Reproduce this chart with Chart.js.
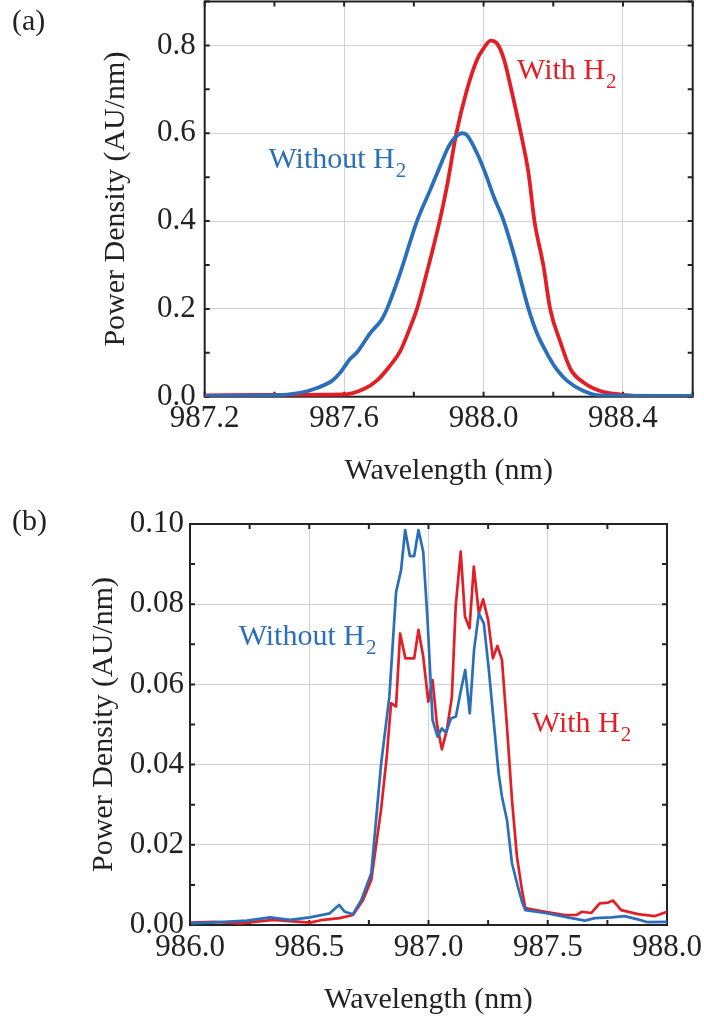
<!DOCTYPE html>
<html>
<head>
<meta charset="utf-8">
<script src="https://cdn.jsdelivr.net/npm/chart.js@4"></script>
<style>
  html, body { margin: 0; padding: 0; background: #fff; }
  #wrap { position: relative; width: 704px; height: 1018px; }
  canvas { position: absolute; left: 0; }
  #chartA { top: 0; }
  #chartB { top: 505px; }
</style>
</head>
<body>
<div id="wrap">
  <canvas id="chartA" width="704" height="505"></canvas>
  <canvas id="chartB" width="704" height="513"></canvas>
</div>
<script>
// (a) spectra, wavelength in nm, power density in AU/nm
const wlWithoutA = [987.200, 987.397, 987.474, 987.512, 987.565, 987.589, 987.617, 987.636, 987.675, 987.708,
  987.723, 987.761, 987.809, 987.847, 987.871, 987.900, 987.919, 987.938, 987.952, 987.981, 988.005, 988.029,
  988.058, 988.086, 988.129, 988.153, 988.181, 988.210, 988.240, 988.287, 988.335, 988.600];
const pdWithoutA = [0.002, 0.003, 0.009, 0.017, 0.036, 0.055, 0.086, 0.100, 0.145, 0.176,
  0.200, 0.282, 0.400, 0.471, 0.517, 0.570, 0.591, 0.600, 0.596, 0.555, 0.509, 0.456,
  0.400, 0.327, 0.200, 0.145, 0.100, 0.062, 0.036, 0.013, 0.003, 0.002];

const wlWithA = [987.200, 987.369, 987.598, 987.655, 987.693, 987.731, 987.761, 987.789, 987.809, 987.837,
  987.874, 987.895, 987.922, 987.952, 987.981, 988.000, 988.020, 988.038, 988.058, 988.082, 988.107, 988.129,
  988.146, 988.172, 988.191, 988.221, 988.250, 988.288, 988.335, 988.392, 988.431, 988.600];
const pdWithA = [0.003, 0.004, 0.005, 0.017, 0.036, 0.070, 0.104, 0.157, 0.200, 0.282,
  0.400, 0.479, 0.600, 0.698, 0.767, 0.793, 0.811, 0.805, 0.770, 0.691, 0.600, 0.509,
  0.400, 0.297, 0.200, 0.123, 0.062, 0.032, 0.013, 0.005, 0.002, 0.002];

// (b) spectra
const wlWithoutB = [986.004, 986.086, 986.142, 986.239, 986.336, 986.419, 986.503, 986.586, 986.625, 986.649,
  986.683, 986.718, 986.760, 986.801, 986.836, 986.864, 986.885, 986.902, 986.922, 986.940, 986.958, 986.978,
  986.996, 987.017, 987.038, 987.056, 987.073, 987.094, 987.115, 987.136, 987.154, 987.173, 987.191, 987.211,
  987.232, 987.253, 987.274, 987.294, 987.308, 987.329, 987.350, 987.371, 987.392, 987.406, 987.489, 987.600,
  987.656, 987.697, 987.767, 987.822, 987.878, 987.919, 988.000];
const pdWithoutB = [0.0004, 0.0006, 0.0008, 0.0011, 0.0019, 0.0013, 0.0019, 0.0029, 0.0050, 0.0033,
  0.0027, 0.0062, 0.0129, 0.0400, 0.0570, 0.0830, 0.0885, 0.0985, 0.0920, 0.0920, 0.0985, 0.0930,
  0.0760, 0.0511, 0.0470, 0.0490, 0.0480, 0.0515, 0.0520, 0.0586, 0.0636, 0.0528, 0.0686, 0.0777,
  0.0752, 0.0636, 0.0503, 0.0378, 0.0320, 0.0262, 0.0154, 0.0104, 0.0058, 0.0037, 0.0030, 0.0017,
  0.0011, 0.0017, 0.0019, 0.0022, 0.0014, 0.0007, 0.0008];

const wlWithB = [986.004, 986.100, 986.211, 986.350, 986.503, 986.558, 986.628, 986.683, 986.725, 986.760,
  986.801, 986.825, 986.843, 986.864, 986.881, 986.903, 986.940, 986.958, 986.978, 986.999, 987.017, 987.035,
  987.056, 987.077, 987.098, 987.114, 987.135, 987.153, 987.172, 987.190, 987.211, 987.229, 987.250, 987.270,
  987.289, 987.308, 987.329, 987.350, 987.371, 987.392, 987.406, 987.489, 987.572, 987.621, 987.642, 987.683,
  987.718, 987.753, 987.774, 987.808, 987.878, 987.947, 988.000];
const pdWithB = [0.0006, 0.0008, 0.0004, 0.0013, 0.0006, 0.0013, 0.0017, 0.0025, 0.0062, 0.0112,
  0.0287, 0.0420, 0.0553, 0.0545, 0.0727, 0.0665, 0.0665, 0.0736, 0.0669, 0.0557, 0.0611, 0.0503,
  0.0438, 0.0486, 0.0569, 0.0794, 0.0931, 0.0769, 0.0740, 0.0894, 0.0777, 0.0812, 0.0761, 0.0665,
  0.0696, 0.0661, 0.0495, 0.0312, 0.0170, 0.0087, 0.0042, 0.0033, 0.0025, 0.0025, 0.0033, 0.0030,
  0.0054, 0.0056, 0.0061, 0.0037, 0.0027, 0.0022, 0.0033];

const BLUE = '#2b6fba';
const RED = '#e21f26';
const SERIF = '"Liberation Serif", "Times New Roman", serif';
const TICK = 5;

const isMajor = (v, step) => Math.abs(Math.round(v / step) * step - v) < 1e-7;

// box frame with inward ticks on all four sides
const framePlugin = {
  id: 'frame',
  beforeDatasetsDraw(chart) {
    const { ctx, chartArea: a, scales: { x, y } } = chart;
    ctx.save();
    ctx.strokeStyle = '#222';
    ctx.lineWidth = 2;
    ctx.beginPath();
    x.ticks.forEach(t => {
      const px = x.getPixelForValue(t.value);
      ctx.moveTo(px, a.bottom); ctx.lineTo(px, a.bottom - TICK);
      ctx.moveTo(px, a.top); ctx.lineTo(px, a.top + TICK);
    });
    y.ticks.forEach(t => {
      const py = y.getPixelForValue(t.value);
      ctx.moveTo(a.left, py); ctx.lineTo(a.left + TICK, py);
      ctx.moveTo(a.right, py); ctx.lineTo(a.right - TICK, py);
    });
    ctx.stroke();
    ctx.strokeRect(a.left, a.top, a.right - a.left, a.bottom - a.top);
    ctx.restore();
  }
};

// curve labels with subscript, and the panel letter
const notesPlugin = {
  id: 'notes',
  afterDatasetsDraw(chart, args, opts) {
    const { ctx, scales: { x, y } } = chart;
    ctx.save();
    ctx.textBaseline = 'alphabetic';
    ctx.textAlign = 'left';
    (opts.items || []).forEach(n => {
      const px = x.getPixelForValue(n.x);
      const py = y.getPixelForValue(n.y);
      ctx.fillStyle = n.color;
      ctx.font = '30px ' + SERIF;
      ctx.fillText(n.text, px, py);
      const w = ctx.measureText(n.text).width;
      ctx.font = '21px ' + SERIF;
      ctx.fillText(n.sub, px + w + 1, py + 9);
    });
    if (opts.panel) {
      ctx.fillStyle = '#222';
      ctx.font = '30px ' + SERIF;
      ctx.fillText(opts.panel.text, opts.panel.left, opts.panel.baseline);
    }
    ctx.restore();
  }
};

function axis(p) {
  return {
    type: 'linear',
    min: p.min,
    max: p.max,
    border: { display: false },
    grid: {
      drawTicks: false,
      lineWidth: 1,
      color: c => isMajor(c.tick.value, p.labelStep) ? '#d2d2d2' : 'rgba(0,0,0,0)'
    },
    ticks: {
      stepSize: p.step,
      autoSkip: false,
      maxRotation: 0,
      padding: p.tickPad,
      color: '#222',
      font: { family: SERIF, size: 31 },
      callback: v => isMajor(v, p.labelStep) ? v.toFixed(p.digits) : ''
    },
    title: {
      display: true,
      text: p.title,
      color: '#222',
      font: { family: SERIF, size: 30, lineHeight: 1.2 },
      padding: p.titlePad
    },
    afterFit(s) {
      if (p.width) s.width = p.width;
      if (p.height) s.height = p.height;
      s.paddingTop = 0; s.paddingBottom = 0; s.paddingLeft = 0; s.paddingRight = 0;
    }
  };
}

function makePanel(id, p) {
  return new Chart(document.getElementById(id), {
    type: 'scatter',
    data: {
      datasets: p.series.map(s => ({
        data: s.wl.map((w, i) => ({ x: w, y: s.pd[i] })),
        borderColor: s.color,
        borderWidth: p.lineWidth,
        showLine: true,
        pointRadius: 0,
        cubicInterpolationMode: p.smooth ? 'monotone' : 'default',
        tension: 0,
        borderJoinStyle: 'round',
        fill: false
      }))
    },
    options: {
      responsive: false,
      animation: false,
      events: [],
      layout: { padding: p.pad },
      plugins: {
        legend: { display: false },
        tooltip: { enabled: false },
        notes: { items: p.notes, panel: p.panel }
      },
      scales: { x: axis(p.x), y: axis(p.y) }
    },
    plugins: [framePlugin, notesPlugin]
  });
}

makePanel('chartA', {
  lineWidth: 3.8,
  smooth: true,
  pad: { left: 0, right: 11.3, top: 1.5, bottom: 0 },
  series: [
    { wl: wlWithoutA, pd: pdWithoutA, color: BLUE },
    { wl: wlWithA, pd: pdWithA, color: RED }
  ],
  notes: [
    { text: 'Without H', sub: '2', x: 987.383, y: 0.52, color: BLUE },
    { text: 'With H', sub: '2', x: 988.096, y: 0.723, color: RED }
  ],
  panel: { text: '(a)', left: 12, baseline: 30 },
  x: { min: 987.2, max: 988.6, step: 0.2, labelStep: 0.4, digits: 1, tickPad: 4,
       title: 'Wavelength (nm)', titlePad: { top: 0, bottom: 15.5 }, height: 108.3 },
  y: { min: 0, max: 0.9, step: 0.1, labelStep: 0.2, digits: 1, tickPad: 9,
       title: 'Power Density (AU/nm)', titlePad: { top: 98, bottom: 0 }, width: 204.7 }
});

makePanel('chartB', {
  lineWidth: 2.7,
  smooth: false,
  pad: { left: 0, right: 37, top: 19, bottom: 0 },
  series: [
    { wl: wlWithoutB, pd: pdWithoutB, color: BLUE },
    { wl: wlWithB, pd: pdWithB, color: RED }
  ],
  notes: [
    { text: 'Without H', sub: '2', x: 986.204, y: 0.0698, color: BLUE },
    { text: 'With H', sub: '2', x: 987.433, y: 0.0482, color: RED }
  ],
  panel: { text: '(b)', left: 12, baseline: 25 },
  x: { min: 986, max: 988, step: 0.25, labelStep: 0.5, digits: 1, tickPad: 4,
       title: 'Wavelength (nm)', titlePad: { top: 0, bottom: 0 }, height: 93 },
  y: { min: 0, max: 0.1, step: 0.01, labelStep: 0.02, digits: 2, tickPad: 6,
       title: 'Power Density (AU/nm)', titlePad: { top: 86, bottom: 0 }, width: 190 }
});
</script>
</body>
</html>
